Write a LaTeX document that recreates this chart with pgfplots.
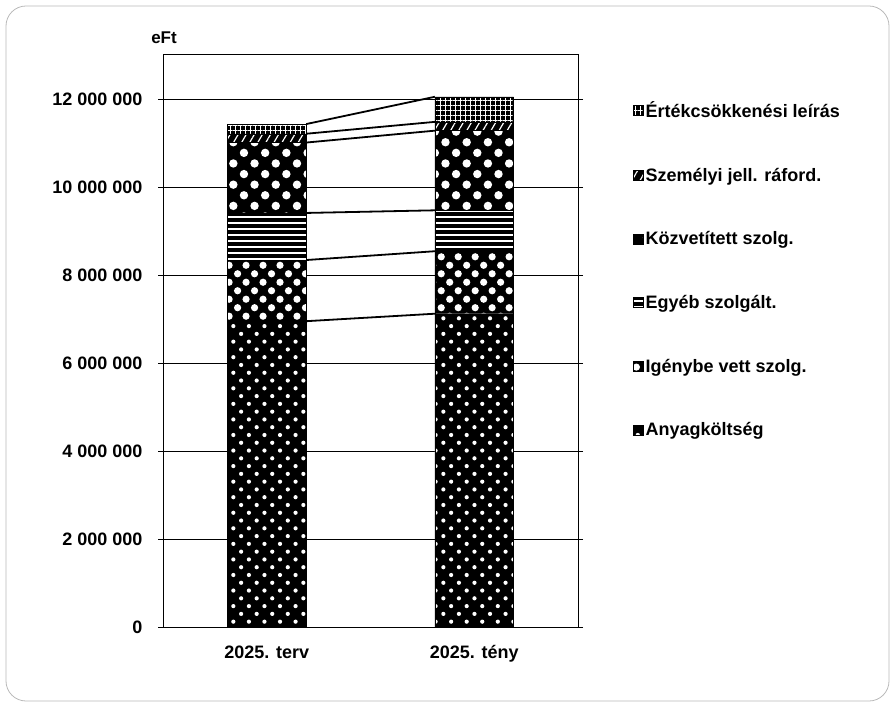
\documentclass[border=0pt]{standalone}
\usepackage{fontspec}
\setmainfont{Liberation Sans}
\usepackage{pgfplots}
\pgfplotsset{compat=1.18}
\usetikzlibrary{patterns.meta}
\pgfplotsset{
  legbox/.style={legend image code/.code={\draw[##1, line width=0.6pt] (0pt,-5pt) rectangle (10pt,5pt);}},
}
\begin{document}
\begin{tikzpicture}
\useasboundingbox (0,0) rectangle (893pt,715pt);
\draw[gray!55, line width=0.8pt, rounded corners=20pt] (6pt,14pt) rectangle (889pt,709pt);
\begin{axis}[
  at={(163pt,88pt)}, anchor=south west,
  width=415pt, height=572pt, scale only axis,
  ybar stacked, bar width=0.38,
  xmin=-0.5, xmax=1.5, ymin=0, ymax=13000000,
  scaled y ticks=false,
  xtick={0,1}, xticklabels={2025. terv, 2025. tény},
  ytick={0,2000000,4000000,6000000,8000000,10000000,12000000},
  yticklabels={0,2 000 000,4 000 000,6 000 000,8 000 000,10 000 000,12 000 000},
  ymajorgrids, grid style={black, line width=0.6pt},
  axis line style={black, line width=1pt},
  tick align=outside, major tick length=5pt,
  xtick style={draw=none},
  ytick style={black, line width=0.8pt},
  tick label style={font=\fontsize{18}{21}\selectfont\bfseries},
  xticklabel style={yshift=-10pt},
  yticklabel style={xshift=-12pt},
  reverse legend,
  legend style={at={(1.125,0.926)}, anchor=north west, draw=none, fill=none,
    font=\fontsize{18}{21}\selectfont\bfseries, row sep=45pt,
    /tikz/every even column/.append style={column sep=1pt}},
  legend cell align=left,
]
\addplot[legbox, fill=black, draw=black, postaction={pattern={Dots[distance=11pt,radius=2.1pt,angle=45]}, pattern color=white}]
  coordinates {(0,6950000) (1,7120000)};
\addlegendentry{Anyagköltség}
\addplot[legbox, fill=black, draw=black, postaction={pattern={Dots[distance=12pt,radius=3.6pt,angle=45]}, pattern color=white}]
  coordinates {(0,1390000) (1,1420000)};
\addlegendentry{Igénybe vett szolg.}
\addplot[legbox, fill=black, draw=black, postaction={pattern={Lines[angle=0,distance=6pt,line width=1.3pt]}, pattern color=white}]
  coordinates {(0,1070000) (1,930000)};
\addlegendentry{Egyéb szolgált.}
\addplot[legbox, fill=black, draw=black, postaction={pattern={Dots[distance=15pt,radius=4.2pt,angle=45]}, pattern color=white}]
  coordinates {(0,1600000) (1,1810000)};
\addlegendentry{Közvetített szolg.}
\addplot[legbox, fill=black, draw=black, postaction={pattern={Lines[angle=60,distance=7pt,line width=1.2pt]}, pattern color=white}]
  coordinates {(0,200000) (1,200000)};
\addlegendentry{Személyi jell. ráford.}
\addplot[legbox, fill=black, draw=black, postaction={pattern={Hatch[angle=0,distance=5pt,line width=0.9pt]}, pattern color=white}]
  coordinates {(0,220000) (1,570000)};
\addlegendentry{Értékcsökkenési leírás}
\end{axis}
\begin{axis}[
  at={(163pt,88pt)}, anchor=south west,
  width=415pt, height=572pt, scale only axis,
  xmin=-0.5, xmax=1.5, ymin=0, ymax=13000000,
  hide axis,
]
\addplot[black, line width=1.8pt] coordinates {(0.19,6950000) (0.81,7120000)};
\addplot[black, line width=1.8pt] coordinates {(0.19,8340000) (0.81,8540000)};
\addplot[black, line width=1.8pt] coordinates {(0.19,9410000) (0.81,9470000)};
\addplot[black, line width=1.8pt] coordinates {(0.19,11010000) (0.81,11280000)};
\addplot[black, line width=1.8pt] coordinates {(0.19,11210000) (0.81,11480000)};
\addplot[black, line width=1.8pt] coordinates {(0.19,11430000) (0.81,12050000)};
\end{axis}
\node[font=\fontsize{17}{20}\selectfont\bfseries] at (164pt,677pt) {eFt};
\end{tikzpicture}
\end{document}
